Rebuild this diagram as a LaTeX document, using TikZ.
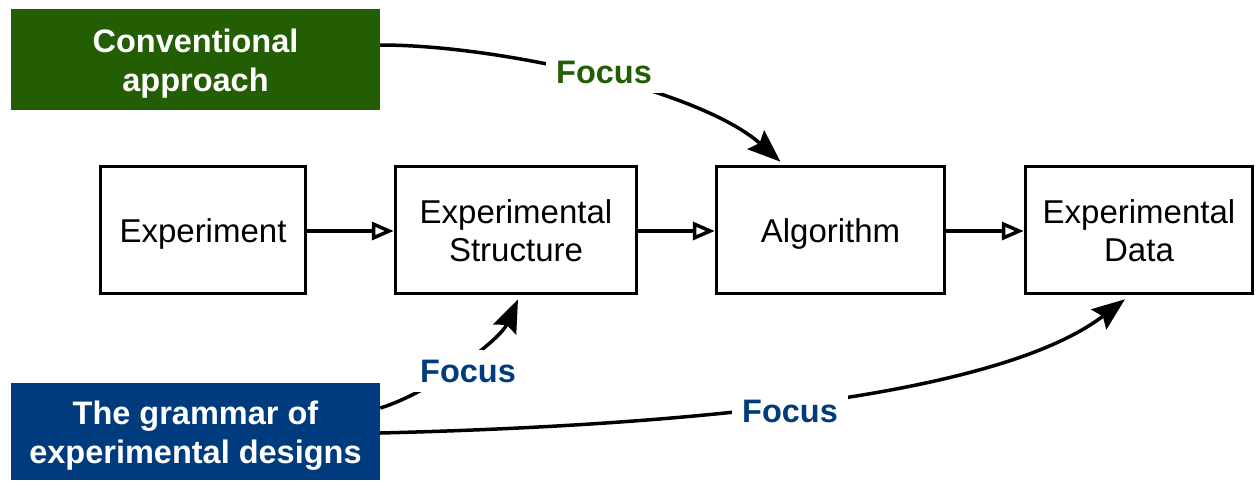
\documentclass[tikz,border=0pt]{standalone}
\usepackage{fontspec}
\setmainfont{Liberation Sans}
\usetikzlibrary{arrows.meta}
\definecolor{cgreen}{RGB}{36,94,4}
\definecolor{cblue}{RGB}{0,60,125}
\newcommand{\lowertext}[1]{\raisebox{-4.5pt}[\height][\depth]{\begin{tabular}{@{}c@{}}#1\end{tabular}}}
\begin{document}
\begin{tikzpicture}[x=1pt,y=-1pt,
  box/.style={draw=black, line width=3.5pt, fill=white, minimum height=127pt, align=center,
    inner sep=0pt, font=\fontsize{33}{38}\selectfont},
  cbox/.style={fill=#1, text=white, inner sep=0pt, align=center, minimum width=369pt,
    font=\fontsize{32.5}{39}\selectfont\bfseries},
  flow/.style={line width=3.5pt, -{Triangle[open, length=22pt, width=18pt]}},
  focusarrow/.style={line width=3.5pt, -{Stealth[length=33pt, width=25pt, inset=5pt]}},
  focuslabel/.style={fill=white, inner sep=10pt, text=#1, font=\fontsize{32.5}{38}\selectfont\bfseries}]
\useasboundingbox (0,0) rectangle (1256,480);

\node[cbox=cgreen, minimum height=101pt] (conv) at (195.5,59.5) {\lowertext{Conventional\\approach}};
\node[cbox=cblue, minimum height=97pt] (gram) at (195.5,431.5) {\lowertext{The grammar of\\experimental designs}};

\node[box, minimum width=205pt] (exp) at (203,230) {\lowertext{Experiment}};
\node[box, minimum width=241pt] (struct) at (516,230) {\lowertext{Experimental\\Structure}};
\node[box, minimum width=228pt] (algo) at (830.5,230) {\lowertext{Algorithm}};
\node[box, minimum width=227pt] (data) at (1139,230) {\lowertext{Experimental\\Data}};

\draw[flow] ([yshift=-1pt]exp.east) -- ([yshift=-1pt]struct.west);
\draw[flow] ([yshift=-1pt]struct.east) -- ([yshift=-1pt]algo.west);
\draw[flow] ([yshift=-1pt]algo.east) -- ([yshift=-1pt]data.west);

\draw[focusarrow] ([yshift=14.5pt]conv.east) .. controls (500,45) and (700,90) .. ([xshift=-50pt,yshift=3pt]algo.north);
\draw[focusarrow] ([yshift=23.5pt]gram.east) .. controls (430,393) and (500,340) .. ([xshift=2pt,yshift=-4pt]struct.south);
\draw[focusarrow] ([yshift=-1.5pt]gram.east) .. controls (700,425) and (1000,395) .. ([xshift=-14pt,yshift=-4pt]data.south);

\node[focuslabel=cgreen] (f1) at (604,72) {Focus};
\node[focuslabel=cblue] (f2) at (468,371) {Focus};
\node[focuslabel=cblue] (f3) at (790,411) {Focus};
\end{tikzpicture}
\end{document}
